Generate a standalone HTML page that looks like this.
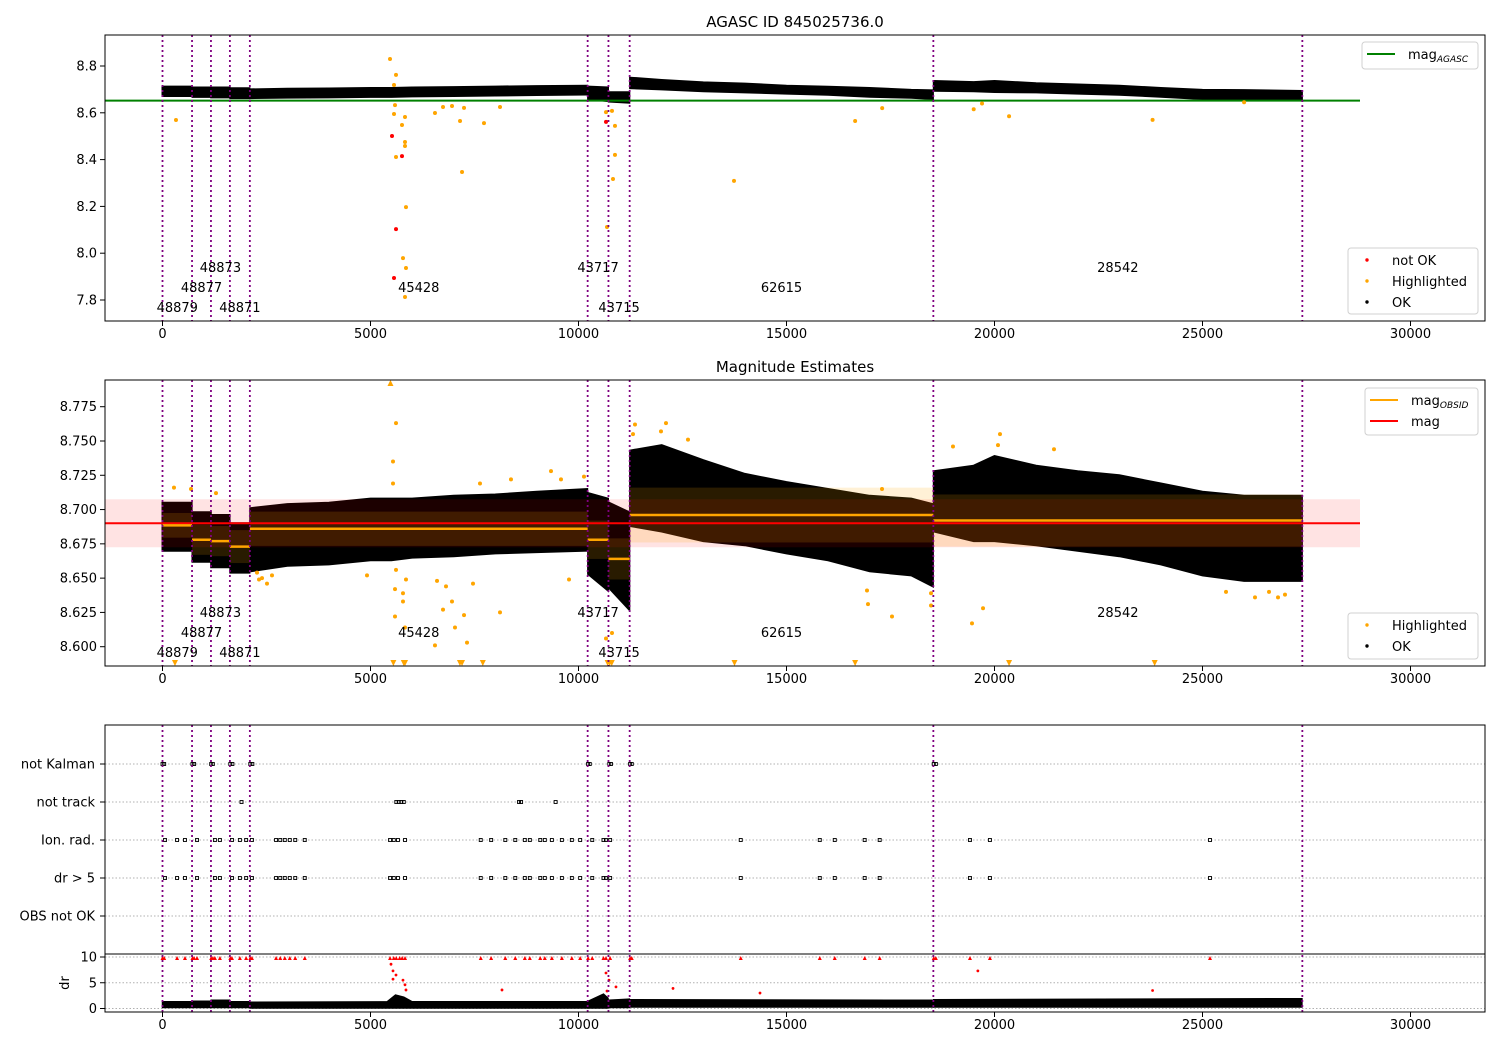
<!DOCTYPE html>
<html><head><meta charset="utf-8">
<style>
html,body{margin:0;padding:0;background:#fff;}
svg{display:block;font-family:"DejaVu Sans","Liberation Sans",sans-serif;}
</style></head>
<body>
<svg id="chart" width="1500" height="1050" viewBox="0 0 1500 1050" xmlns="http://www.w3.org/2000/svg">
<defs>
<clipPath id="c1"><rect x="105" y="35" width="1380" height="286"/></clipPath>
<clipPath id="c2"><rect x="105" y="380" width="1380" height="286"/></clipPath>
<clipPath id="c3"><rect x="105" y="725" width="1380" height="287"/></clipPath>
</defs>
<g id="root"></g>
</svg>
<script>
// ---- data ----
const obsBounds=[0,710,1165,1620,2100,10220,10720,11230,18530,27400];
const obsIds=["48879","48877","48873","48871","45428","43717","43715","62615","28542"];
const obsMean=[8.6885,8.678,8.677,8.673,8.686,8.678,8.664,8.696,8.692];
const obsStd=[0.009,0.011,0.011,0.012,0.0125,0.014,0.015,0.020,0.019];
const magAgasc=8.652;
const magMean=8.690;
const magStd=0.0175;
const envT=[0,700,720,1160,1170,1610,1630,2090,2110,3000,4000,5000,5500,6000,7000,8000,9000,10210,10230,10710,10730,11220,11240,12000,13000,14000,15000,16000,17000,18000,18520,18540,19500,20000,21000,22000,23000,24000,25000,26000,27390];
const p1Hi=[8.712,8.712,8.708,8.708,8.708,8.708,8.705,8.705,8.700,8.703,8.704,8.706,8.706,8.708,8.710,8.712,8.714,8.716,8.712,8.708,8.688,8.688,8.750,8.740,8.730,8.725,8.716,8.711,8.706,8.698,8.696,8.736,8.731,8.736,8.726,8.721,8.716,8.706,8.698,8.697,8.693];
const p1Lo=[8.672,8.672,8.668,8.668,8.666,8.666,8.663,8.663,8.663,8.665,8.666,8.668,8.668,8.670,8.672,8.674,8.676,8.678,8.660,8.650,8.648,8.643,8.705,8.700,8.692,8.687,8.682,8.677,8.669,8.664,8.659,8.694,8.692,8.689,8.687,8.682,8.677,8.669,8.659,8.659,8.659];
const p2Hi=[8.705,8.705,8.698,8.698,8.696,8.696,8.690,8.690,8.701,8.704,8.705,8.708,8.708,8.708,8.710,8.711,8.713,8.715,8.712,8.708,8.705,8.698,8.743,8.747,8.736,8.726,8.720,8.715,8.710,8.708,8.704,8.728,8.732,8.739,8.732,8.728,8.725,8.719,8.713,8.710,8.710];
const p2Lo=[8.670,8.670,8.662,8.662,8.658,8.658,8.654,8.654,8.655,8.659,8.660,8.663,8.663,8.665,8.666,8.668,8.669,8.670,8.653,8.641,8.643,8.627,8.688,8.684,8.677,8.674,8.668,8.663,8.655,8.652,8.644,8.684,8.677,8.677,8.674,8.670,8.666,8.660,8.652,8.648,8.648];
// panel 1 highlighted / not OK
const p1HlT=[5469,5613,5565,5589,5565,5829,5757,5829,5829,5613,5853,5781,5853,5829,324,6550,6743,6959,7152,7248,7200,7728,8113,10661,10805,10877,10877,10829,10685,13738,16650,17300,19500,19700,20350,23800,26000];
const p1HlM=[8.830,8.762,8.719,8.633,8.595,8.582,8.548,8.475,8.458,8.411,8.197,7.979,7.937,7.813,8.569,8.599,8.625,8.629,8.565,8.621,8.347,8.556,8.625,8.603,8.608,8.544,8.420,8.317,8.112,8.309,8.565,8.62,8.615,8.64,8.585,8.57,8.645];
const p1BadT=[5517,5757,5613,5565,10661];
const p1BadM=[8.501,8.415,8.103,7.894,8.561];
// panel 2 highlighted
const p2HlT=[5613,5541,5541,5613,5853,5589,5781,5781,5589,5829,6599,6815,6959,6743,7248,7031,7320,6550,7464,8113,4916,9772,2272,2392,2512,2632,2320,276,685,1286,9339,9579,8377,7632,10132,11358,11983,12103,12632,11310,10661,10805,20132,20084,19002,21430,17296,16935,16959,17536,18474,18474,19459,19724,25565,26262,26599,26815,26983];
const p2HlM=[8.763,8.735,8.719,8.656,8.649,8.642,8.639,8.633,8.622,8.614,8.648,8.644,8.633,8.627,8.623,8.614,8.603,8.601,8.646,8.625,8.652,8.649,8.654,8.650,8.646,8.652,8.649,8.716,8.715,8.712,8.728,8.722,8.722,8.719,8.724,8.762,8.757,8.763,8.751,8.755,8.606,8.610,8.755,8.747,8.746,8.744,8.715,8.641,8.631,8.622,8.639,8.630,8.617,8.628,8.640,8.636,8.640,8.636,8.638];
const p2LowClipT=[300,5550,5800,5830,7150,7200,7700,10700,10750,10800,13750,16650,20350,23850];
const p2HighClipT=[5480];
// panel 3 flags
const flagRows=["not Kalman","not track","Ion. rad.","dr > 5","OBS not OK"];
const notKalmanT=[0,40,720,760,1170,1210,1630,1680,2110,2160,10230,10270,10740,10780,11240,11280,18540,18590];
const notTrackT=[1900,5620,5680,5740,5800,8570,8620,9450];
const ionRadT=[60,350,540,830,1260,1380,1670,1860,2010,2150,2730,2830,2940,3060,3190,3420,5470,5560,5660,5830,7650,7900,8240,8480,8710,8830,9080,9190,9360,9600,9840,10040,10330,10600,10660,10760,13900,15800,16160,16880,17240,19410,19890,25180];
const dr5T=[60,350,540,830,1260,1380,1670,1860,2010,2150,2730,2830,2940,3060,3190,3420,5470,5560,5660,5830,7650,7900,8240,8480,8710,8830,9080,9190,9360,9600,9840,10040,10330,10600,10660,10760,13900,15800,16160,16880,17240,19410,19890,25180];
const drClipT=[0,40,350,540,720,760,830,1170,1210,1260,1380,1630,1670,1860,2010,2110,2150,2730,2830,2940,3060,3190,3420,5470,5560,5620,5700,5760,5830,7650,7900,8240,8480,8710,8830,9080,9190,9360,9600,9840,10040,10230,10330,10600,10660,10760,11240,11280,13900,15800,16160,16880,17240,18540,18590,19410,19890,25180];
const drRedT=[5493,5541,5613,5541,5781,5829,5853,8161,10661,10733,10685,10901,12272,14363,19600,23800];
const drRedV=[8.6,7.3,6.5,5.7,5.5,4.6,3.6,3.6,6.9,5.5,3.4,4.2,3.9,3.0,7.3,3.5];
const drT=[0,700,720,1160,1170,1610,1630,2090,2110,5400,5600,5800,6000,10210,10230,10600,10710,10730,11220,11240,18520,18540,27390];
const drHi=[1.3,1.3,1.4,1.4,1.6,1.6,1.3,1.3,1.2,1.3,2.6,2.2,1.3,1.3,1.4,2.8,2.0,1.6,1.8,1.7,1.6,1.7,1.9];
const drLo=[0.2,0.2,0.2,0.2,0.2,0.2,0.2,0.2,0.1,0.1,0.1,0.1,0.1,0.1,0.1,0.1,0.1,0.2,0.2,0.3,0.3,0.3,0.3];
const xTicks=[0,5000,10000,15000,20000,25000,30000];
const y1Ticks=[7.8,8.0,8.2,8.4,8.6,8.8];
const y2Ticks=[8.600,8.625,8.650,8.675,8.700,8.725,8.750,8.775];
const drTicks=[0,5,10];

// ---- scales ----
const X=t=>162.5+t*0.0416;
const Y1=m=>66+(8.8-m)*234;
const Y2=m=>646.7-(m-8.6)*1371.4;
const Yd=d=>1008.5-d*5.15;
const rowY=[764,802,840,878,916];
const tEnd=(1360-162.5)/0.0416, tStart=(105-162.5)/0.0416;

const NS="http://www.w3.org/2000/svg";
const root=document.getElementById('root');
function mk(tag,attrs,parent){const e=document.createElementNS(NS,tag);for(const k in attrs)e.setAttribute(k,attrs[k]);(parent||root).appendChild(e);return e;}
function txt(s,x,y,attrs,parent){const e=mk('text',Object.assign({x:x,y:y,'font-size':'13'},attrs||{}),parent);e.textContent=s;return e;}
function segOf(t){for(let i=obsBounds.length-2;i>=0;i--)if(t>=obsBounds[i])return i;return 0;}

function envelope(g,lo,hi,Y,fill,name){
  for(let s=0;s<obsBounds.length-1;s++){
    const idx=envT.map((t,i)=>i).filter(i=>segOf(envT[i])===s);
    if(!idx.length)continue;
    let d=idx.map((i,k)=>(k?'L':'M')+X(envT[i]).toFixed(1)+','+Y(hi[i]).toFixed(1)).join('');
    d+=idx.slice().reverse().map(i=>'L'+X(envT[i]).toFixed(1)+','+Y(lo[i]).toFixed(1)).join('')+'Z';
    const p=mk('path',{d:d,fill:fill,stroke:fill,'stroke-width':'2'},g);
    
    
  }
}
function dots(g,ts,vs,Y,color,r,name){
  ts.forEach((t,i)=>{const c=mk('circle',{cx:X(t),cy:Y(vs[i]),r:r,fill:color},g);
    
    });
}
function vlines(g,y0,y1){
  obsBounds.forEach(t=>{const l=mk('line',{x1:X(t),x2:X(t),y1:y0,y2:y1,stroke:'#800080','stroke-width':'1.8','stroke-dasharray':'2,3'},g);
    
    });
}
function xaxis(yb,labels){
  xTicks.forEach(t=>{mk('line',{x1:X(t),x2:X(t),y1:yb,y2:yb+5,stroke:'#000','stroke-width':'1'});
    if(labels){const e=txt(String(t),X(t),yb+17,{'text-anchor':'middle'});
      
      }});
}
function yaxis(ticks,Y,fmt){
  ticks.forEach(v=>{mk('line',{x1:100,x2:105,y1:Y(v),y2:Y(v),stroke:'#000'});
    const e=txt(fmt(v),97,Y(v)+4.5,{'text-anchor':'end'});
    
    });
}
function frame(y,h,name){const r=mk('rect',{x:105,y:y,width:1380,height:h,fill:'none',stroke:'#000','stroke-width':'1'});
  
  }
function obsLabels(g,rowYs){
  obsIds.forEach((id,s)=>{const tm=(obsBounds[s]+obsBounds[s+1])/2;
    const e=txt(id,X(tm),rowYs[s%3]+5,{'text-anchor':'middle'},g);
    
    });
}
function tri(g,t,y,color,up,name,s){
  const x=X(t);
  const d=up?`M${x-s},${y+s}L${x+s},${y+s}L${x},${y-s}Z`:`M${x-s},${y-s}L${x+s},${y-s}L${x},${y+s}Z`;
  const p=mk('path',{d:d,fill:color},g);
  
  
}

// ---- Panel 1 ----
let t1=txt('AGASC ID 845025736.0',795,27,{'text-anchor':'middle','font-size':'15'});


const g1=mk('g',{'clip-path':'url(#c1)'});


envelope(g1,p1Lo,p1Hi,Y1,'#000','ok-points');
mk('line',{x1:X(tStart),x2:X(tEnd),y1:Y1(magAgasc),y2:Y1(magAgasc),stroke:'#008000','stroke-width':'2'},g1);
dots(g1,p1HlT,p1HlM,Y1,'#ffa500',2,'highlighted-point');
dots(g1,p1BadT,p1BadM,Y1,'#ff0000',2,'not-ok-point');
vlines(g1,35,321);
obsLabels(g1,[307,287,267]);
frame(35,286,'panel1-frame');
xaxis(321,true);
yaxis(y1Ticks,Y1,v=>v.toFixed(1));

// ---- Panel 2 ----
let t2=txt('Magnitude Estimates',795,372,{'text-anchor':'middle','font-size':'15'});


const g2=mk('g',{'clip-path':'url(#c2)'});


envelope(g2,p2Lo,p2Hi,Y2,'#000','ok-points');
dots(g2,p2HlT,p2HlM,Y2,'#ffa500',2,'highlighted-point');
mk('rect',{x:X(tStart),y:Y2(magMean+magStd),width:X(tEnd)-X(tStart),height:Y2(magMean-magStd)-Y2(magMean+magStd),fill:'#ff0000','fill-opacity':'0.11'},g2);
obsMean.forEach((m,s)=>{
  const r=mk('rect',{x:X(obsBounds[s]),y:Y2(m+obsStd[s]),width:X(obsBounds[s+1])-X(obsBounds[s]),height:Y2(m-obsStd[s])-Y2(m+obsStd[s]),fill:'#ffa500','fill-opacity':'0.16'},g2);
  
  
});
const red=mk('line',{x1:X(tStart),x2:X(tEnd),y1:Y2(magMean),y2:Y2(magMean),stroke:'#ff0000','stroke-width':'2'},g2);


obsMean.forEach((m,s)=>{
  const l=mk('line',{x1:X(obsBounds[s]),x2:X(obsBounds[s+1]),y1:Y2(m),y2:Y2(m),stroke:'#ffa500','stroke-width':'2.5'},g2);
  
  
});
p2LowClipT.forEach(t=>tri(g2,t,663,'#ffa500',false,'clipped-low-marker',3));
p2HighClipT.forEach(t=>tri(g2,t,383,'#ffa500',true,'clipped-high-marker',3));
vlines(g2,380,666);
obsLabels(g2,[652,632,612]);
frame(380,286,'panel2-frame');
xaxis(666,true);
yaxis(y2Ticks,Y2,v=>v.toFixed(3));

// ---- Panel 3 ----
const g3=mk('g',{'clip-path':'url(#c3)'});


rowY.forEach(y=>mk('line',{x1:105,x2:1485,y1:y,y2:y,stroke:'#b0b0b0','stroke-width':'1','stroke-dasharray':'1.5,2'},g3));
drTicks.forEach(d=>mk('line',{x1:105,x2:1485,y1:Yd(d),y2:Yd(d),stroke:'#b0b0b0','stroke-width':'1','stroke-dasharray':'1.5,2'},g3));
[notKalmanT,notTrackT,ionRadT,dr5T].forEach((arr,ri)=>{
  arr.forEach(t=>{const r=mk('rect',{x:X(t)-1.5,y:rowY[ri]-1.5,width:3,height:3,fill:'none',stroke:'#000','stroke-width':'0.9'},g3);
    
    });
});
for(let s=0;s<obsBounds.length-1;s++){
  const idx=drT.map((t,i)=>i).filter(i=>segOf(drT[i])===s);
  if(!idx.length)continue;
  let d=idx.map((i,k)=>(k?'L':'M')+X(drT[i]).toFixed(1)+','+Yd(drHi[i]).toFixed(1)).join('');
  d+=idx.slice().reverse().map(i=>'L'+X(drT[i]).toFixed(1)+','+Yd(drLo[i]).toFixed(1)).join('')+'Z';
  const p=mk('path',{d:d,fill:'#000',stroke:'#000','stroke-width':'1.5'},g3);
  
  
}
dots(g3,drRedT,drRedV,Yd,'#ff0000',1.4,'dr-red-point');
drClipT.forEach(t=>tri(g3,t,Yd(10)+1,'#ff0000',true,'dr-clipped-marker',2));
vlines(g3,725,1012);
mk('line',{x1:105,x2:1485,y1:954,y2:954,stroke:'#000','stroke-width':'1'});
frame(725,287,'panel3-frame');
xaxis(1012,true);
flagRows.forEach((n,i)=>{mk('line',{x1:100,x2:105,y1:rowY[i],y2:rowY[i],stroke:'#000'});
  const e=txt(n,95,rowY[i]+4.5,{'text-anchor':'end'});
  
  });
drTicks.forEach(d=>{mk('line',{x1:100,x2:105,y1:Yd(d),y2:Yd(d),stroke:'#000'});
  const e=txt(String(d),97,Yd(d)+4.5,{'text-anchor':'end'});
  
  });
let dl=txt('dr',69,983,{'text-anchor':'middle',transform:'rotate(-90 69 983)'});



// ---- legends ----
function legend(x,y,w,h,items,name){
  const g=mk('g',{});
  
  
  mk('rect',{x:x,y:y,width:w,height:h,rx:3,fill:'#fff','fill-opacity':'0.85',stroke:'#d0d0d0'},g);
  items.forEach((it,i)=>{
    const cy=y+12+i*21;
    if(it.type==='line')mk('line',{x1:x+5,x2:x+33,y1:cy,y2:cy,stroke:it.color,'stroke-width':'2'},g);
    else mk('circle',{cx:x+19,cy:cy,r:1.7,fill:it.color},g);
    const t=txt('',x+(it.type==='line'?46:44),cy+5,{},g);
    
    
    t.appendChild(document.createTextNode(it.label));
    if(it.sub){const ts=document.createElementNS(NS,'tspan');ts.setAttribute('font-size','9');ts.setAttribute('font-style','italic');ts.setAttribute('dy','3');ts.textContent=it.sub;t.appendChild(ts);}
  });
}
legend(1362,42,116,27,[{type:'line',color:'#008000',label:'mag',sub:'AGASC'}],'legend-agasc');
legend(1348,248,130,66,[{type:'dot',color:'#ff0000',label:'not OK'},{type:'dot',color:'#ffa500',label:'Highlighted'},{type:'dot',color:'#000',label:'OK'}],'legend-points-1');
legend(1365,388,113,47,[{type:'line',color:'#ffa500',label:'mag',sub:'OBSID'},{type:'line',color:'#ff0000',label:'mag'}],'legend-mag');
legend(1348,613,130,46,[{type:'dot',color:'#ffa500',label:'Highlighted'},{type:'dot',color:'#000',label:'OK'}],'legend-points-2');
</script>
</body></html>
